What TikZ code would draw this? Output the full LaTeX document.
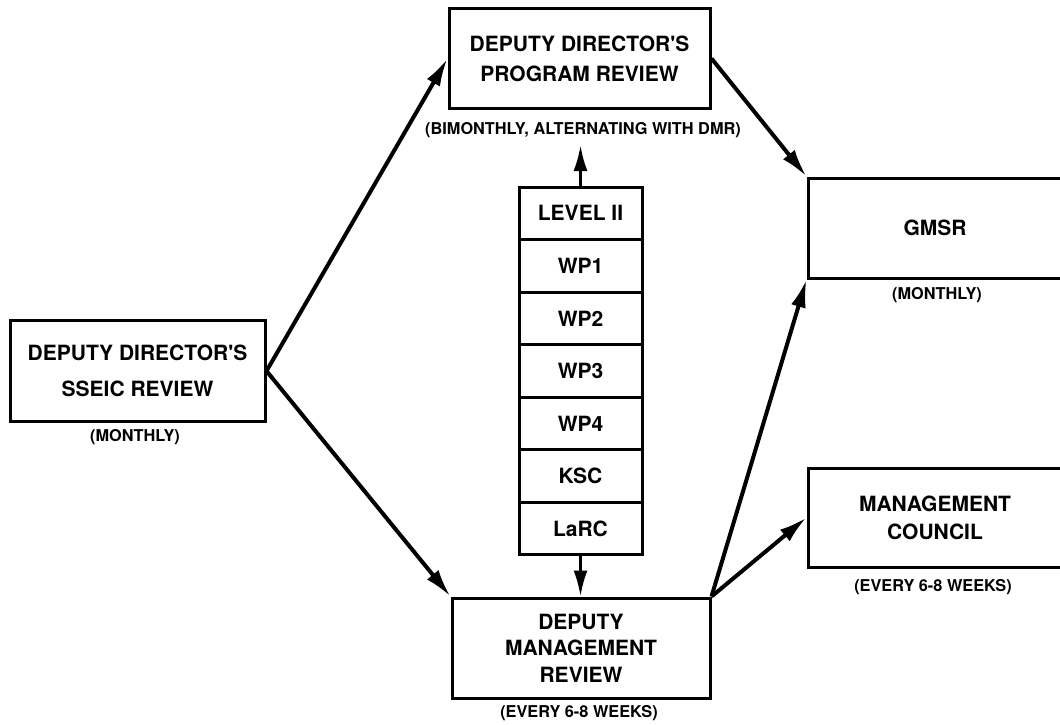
\documentclass[tikz,border=0pt]{standalone}
\usepackage{fontspec}
\setmainfont{TeX Gyre Heros}
\usetikzlibrary{arrows.meta}
\begin{document}
\begin{tikzpicture}[x=1pt,y=-1pt,
  box/.style={draw, line width=3pt, inner sep=0pt, align=center},
  bigtext/.style={font=\fontsize{21}{#1}\selectfont\bfseries},
  cell/.style={draw, line width=3pt, minimum width=123pt, minimum height=52.57pt, inner sep=0pt, font=\fontsize{21}{25}\selectfont\bfseries},
  lbl/.style={font=\fontsize{16.3}{18}\selectfont\bfseries, inner sep=0pt},
  link/.style={line width=4pt, -{Latex[length=28pt,width=15pt]}},
  clink/.style={line width=3pt, -{Latex[length=26pt,width=14pt]}}
]
\useasboundingbox (0,0) rectangle (1060,725);
\clip (0,0) rectangle (1060,725);

% main boxes
\node[box, bigtext=36, minimum width=255pt, minimum height=101pt] (sseic) at (137.5,371) {DEPUTY DIRECTOR\textquotesingle S\\SSEIC REVIEW};
\node[box, bigtext=30, minimum width=261pt, minimum height=99pt] (ddpr) at (579.5,58.5) {DEPUTY DIRECTOR\textquotesingle S\\PROGRAM REVIEW};
\node[box, bigtext=26, minimum width=254pt, minimum height=100pt] (gmsr) at (935,228) {GMSR};
\node[box, bigtext=28, minimum width=254pt, minimum height=99pt] (mc) at (935,517.5) {MANAGEMENT\\COUNCIL};
\node[box, bigtext=26.5, minimum width=258pt, minimum height=100pt] (dmr) at (581,648) {DEPUTY\\MANAGEMENT\\REVIEW};

% labels
\node[lbl] (sseiclbl) at (135,437) {(MONTHLY)};
\node[lbl] (ddprlbl) at (583,130) {(BIMONTHLY, ALTERNATING WITH DMR)};
\node[lbl] (gmsrlbl) at (937,295) {(MONTHLY)};
\node[lbl] (mclbl) at (933,587) {(EVERY 6-8 WEEKS)};
\node[lbl] (dmrlbl) at (579,713) {(EVERY 6-8 WEEKS)};

% column of cells
\node[cell] (c1) at (580.5,213.3) {LEVEL II};
\node[cell] (c2) at (580.5,265.9) {WP1};
\node[cell] (c3) at (580.5,318.4) {WP2};
\node[cell] (c4) at (580.5,371.0) {WP3};
\node[cell] (c5) at (580.5,423.6) {WP4};
\node[cell] (c6) at (580.5,476.1) {KSC};
\node[cell] (c7) at (580.5,528.7) {LaRC};
\coordinate (uptip) at (580.5,145);

% connectors
\draw[link] (sseic.east) -- (ddpr.west);
\draw[link] (sseic.east) -- (dmr.north west);
\draw[link] (ddpr.east) -- (gmsr.north west);
\draw[link] (dmr.north east) -- (gmsr.south west);
\draw[link] (dmr.north east) -- (mc.west);
\draw[clink] (c1.north) -- (uptip);
\draw[clink] (c7.south) -- (c7.south |- dmr.north);
\end{tikzpicture}
\end{document}
